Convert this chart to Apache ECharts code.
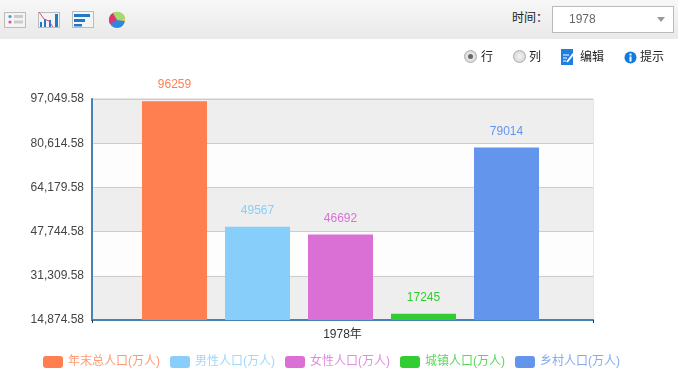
<!DOCTYPE html>
<html>
<head>
<meta charset="utf-8">
<style>
  html, body { margin: 0; padding: 0; background: #fff; font-family: "Liberation Sans", "Noto Sans CJK SC", sans-serif; }
  #page { position: relative; width: 678px; height: 376px; overflow: hidden; }
  #main { position: absolute; left: 0; top: 0; width: 678px; height: 376px; }
  #bar { position: absolute; left: 0; top: 0; width: 678px; height: 39px; background: linear-gradient(#f7f7f7, #e9e9e9); }
  .abs { position: absolute; }
  .txt { position: absolute; font-size: 12px; line-height: 16px; color: #222; white-space: nowrap; }
  #select { position: absolute; left: 552px; top: 6px; width: 120px; height: 25px; border: 1px solid #bbb; background: #fff; }
  #select span { position: absolute; left: 16px; top: 4px; font-size: 12px; line-height: 16px; color: #666; }
  #select i { position: absolute; right: 8px; top: 10px; width: 0; height: 0; border-left: 4.5px solid transparent; border-right: 4.5px solid transparent; border-top: 5px solid #999; }
  .radio { position: absolute; top: 50px; width: 11px; height: 11px; border-radius: 50%; border: 1px solid #aaa; background: radial-gradient(#f4f4f4, #d0d0d0); }
  .radio b { position: absolute; left: 3px; top: 3px; width: 5px; height: 5px; border-radius: 50%; background: #666; }
</style>
</head>
<body>
<div id="page">
  <div id="main"></div>
  <div id="bar">
    <svg class="abs" style="left:0;top:0" width="140" height="39">
      <rect x="4.5" y="12.5" width="21" height="15" fill="#f4f4f4" stroke="#bbb"/>
      <circle cx="10" cy="16.5" r="1.6" fill="#4a9bd8"/><circle cx="10" cy="22" r="1.6" fill="#e0559a"/>
      <rect x="14" y="15" width="9" height="3" fill="#ccc"/><rect x="14" y="20.5" width="9" height="3" fill="#ccc"/>
      <rect x="38.5" y="12.5" width="21" height="15" fill="#f4f4f4" stroke="#bbb"/>
      <rect x="40" y="22" width="2" height="5" fill="#1f78c8"/><rect x="44" y="19" width="2" height="8" fill="#1f78c8"/><rect x="49" y="20" width="2" height="7" fill="#1f78c8"/><rect x="55" y="14" width="3" height="13" fill="#1f78c8"/>
      <polyline points="39,12 44,19 49,21 53,27" fill="none" stroke="#d9508f"/>
      <rect x="72.5" y="11.5" width="21" height="16" fill="#f4f4f4" stroke="#bbb"/>
      <rect x="74" y="14" width="16" height="3" fill="#1f78c8"/><rect x="74" y="19" width="11" height="3" fill="#1f78c8"/><rect x="74" y="24" width="8" height="2.5" fill="#1f78c8"/>
      <circle cx="117" cy="20" r="8" fill="#2f86e0"/>
      <path d="M117 20 L110 24 A8 8 0 0 1 113 13 Z" fill="#e0356f"/>
      <path d="M117 20 L113 13 A8 8 0 0 1 125 18 Z" fill="#a8dc6a"/>
      <path d="M117 20 L125 18 A8 8 0 0 1 125 21 Z" fill="#f0d040"/>
    </svg>
    <div class="txt" style="left:512px;top:10px">时间：</div>
    <div id="select"><span>1978</span><i></i></div>
  </div>
  <div class="radio" style="left:464px"><b></b></div>
  <div class="txt" style="left:481px;top:49px">行</div>
  <div class="radio" style="left:513px"></div>
  <div class="txt" style="left:529px;top:49px">列</div>
  <svg class="abs" style="left:561px;top:49px" width="14" height="16">
    <rect x="0" y="0" width="12" height="16" fill="#1f7fe0"/>
    <path d="M2 6 H8 M2 9 H6 M2 12 H5" stroke="#fff" fill="none"/>
    <path d="M6 13 L13 4" stroke="#fff" stroke-width="2" fill="none"/>
  </svg>
  <div class="txt" style="left:580px;top:49px">编辑</div>
  <svg class="abs" style="left:624px;top:51px" width="13" height="13">
    <circle cx="6.5" cy="6.5" r="6" fill="#0f7be0"/>
    <rect x="5.5" y="5.5" width="2" height="5" fill="#fff"/><rect x="5.5" y="2.5" width="2" height="2" fill="#fff"/>
  </svg>
  <div class="txt" style="left:640px;top:49px">提示</div>
</div>
<script src="https://cdn.jsdelivr.net/npm/echarts@6/dist/echarts.min.js"></script>
<script>
const categories = ['1978年']
const seriesNames = ['年末总人口(万人)', '男性人口(万人)', '女性人口(万人)', '城镇人口(万人)', '乡村人口(万人)']
const seriesValues = [[96259], [49567], [46692], [17245], [79014]]
const colorList = ['#ff7f50', '#87cefa', '#da70d6', '#32cd32', '#6495ed']
const axisMin = 14874.58
const axisMax = 97049.58
const axisStep = 16435

const fontFamily = '"Liberation Sans", "Noto Sans CJK SC", sans-serif'

const option = {
  animation: false,
  color: colorList,
  textStyle: { fontFamily: fontFamily },
  legend: {
    left: 43,
    top: 356,
    itemWidth: 20,
    itemHeight: 12,
    itemGap: 10,
    icon: 'roundRect',
    padding: 0,
    data: seriesNames,
    textStyle: { color: 'inherit', fontSize: 12, opacity: 0.8, fontFamily: fontFamily }
  },
  // second grid only holds the bars, the bar group sits 2px left of the axis centre
  grid: [
    { left: 92, right: 85, top: 99, bottom: 56, show: true, borderColor: '#ccc', borderWidth: 1 },
    { left: 90, right: 87, top: 99, bottom: 56 }
  ],
  xAxis: [
    {
      type: 'category',
      data: categories,
      axisLine: { lineStyle: { color: '#4682b4', width: 2 } },
      axisTick: { show: true, alignWithLabel: false, length: 3, lineStyle: { color: '#333' } },
      axisLabel: { color: '#333', fontSize: 12, margin: 9, fontFamily: fontFamily },
      splitLine: { show: false }
    },
    { type: 'category', gridIndex: 1, data: categories, show: false }
  ],
  yAxis: [
    {
      type: 'value',
      min: axisMin,
      max: axisMax,
      interval: axisStep,
      axisLine: { show: true, lineStyle: { color: '#4682b4', width: 2 } },
      axisTick: { show: false },
      axisLabel: {
        color: '#444',
        fontSize: 12,
        margin: 8,
        fontFamily: fontFamily,
        formatter: v => v.toLocaleString('en-US', { minimumFractionDigits: 2, maximumFractionDigits: 2 })
      },
      splitLine: { show: true, lineStyle: { color: '#ccc', width: 1 } },
      splitArea: { show: true, areaStyle: { color: ['#eeeeee', '#fdfdfd'] } }
    },
    { type: 'value', gridIndex: 1, min: axisMin, max: axisMax, interval: axisStep, show: false }
  ],
  series: seriesNames.map((name, i) => ({
    name: name,
    type: 'bar',
    xAxisIndex: 1,
    yAxisIndex: 1,
    data: seriesValues[i],
    barWidth: 65,
    barGap: '27.7%',
    label: {
      show: true,
      position: 'top',
      distance: 10,
      color: colorList[i],
      fontSize: 12,
      fontFamily: fontFamily
    }
  }))
}

let chart = echarts.init(document.getElementById('main'))
chart.setOption(option)
</script>
</body>
</html>
